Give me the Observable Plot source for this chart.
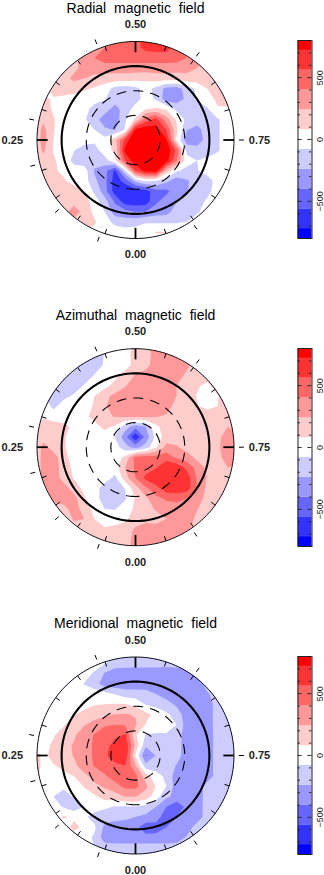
<!DOCTYPE html>
<html><head><meta charset="utf-8">
<script src="https://cdn.jsdelivr.net/npm/d3@7"></script>
<script src="https://cdn.jsdelivr.net/npm/@observablehq/plot@0.6"></script>
<style>html,body{margin:0;padding:0;background:#fff;overflow:hidden}#c{position:relative;width:324px;height:875px;overflow:hidden}svg{position:absolute;left:0;background:transparent!important}</style>
</head><body><div id="c"></div>
<script>
const titles=["Radial magnetic field","Azimuthal magnetic field","Meridional magnetic field"];
const phaseLabels=["0.50","0.25","0.75","0.00"];
const obsPhases=[0.057,0.133,0.211,0.281,0.439,0.6,0.75,0.904];
const cuts=[-720,-560,-400,-240,-80,80,240,400,560,720];
const bandColors=["#0000ff","#3333ff","#6666ff","#9999ff","#ccccff","#ffffff","#ffcccc","#ff9999","#ff6666","#ff3333","#ff0000"];
const barEdges=[-800,-720,-560,-400,-240,-80,80,240,400,560,720,800];
const barTicks=[-700,-600,-500,-400,-300,-200,-100,0,100,200,300,400,500,600,700];
const barLabels=[-500,0,500];
const radial=[
[0,0,0,0,0,0,0,160,320,480,480,640,640,560,480,320,160,0,0,0,0],
[0,0,0,0,160,240,320,400,480,480,520,600,620,620,480,320,240,160,100,0,0],
[0,0,0,100,180,300,400,480,480,480,480,480,480,480,480,400,300,200,100,0,0],
[0,0,0,140,200,300,300,320,320,320,320,320,320,320,300,300,240,160,120,60,0],
[0,0,100,180,280,240,200,170,160,160,140,120,160,160,160,180,170,160,160,100,60],
[0,0,160,160,140,100,60,0,-140,-170,-120,-20,-130,-290,-320,-170,-50,80,160,120,60],
[0,120,60,40,20,0,0,-70,-170,-170,-140,-20,-100,-330,-330,-200,-60,0,120,140,60],
[0,160,60,0,0,0,-165,-170,-300,-170,-10,80,110,70,-110,-170,-170,-100,60,60,20],
[20,200,90,20,0,-60,-170,-330,-340,-100,110,480,620,320,60,-120,-170,-170,-100,0,0],
[30,300,90,0,0,0,-80,-210,-250,-60,760,830,800,560,120,-230,-290,-170,-100,0,0],
[40,320,80,0,0,0,-40,-20,180,620,900,900,900,740,60,-330,-340,-170,-100,0,0],
[30,280,70,0,-70,-170,-160,20,110,780,900,900,900,850,520,-130,-160,-170,-100,0,0],
[0,150,100,20,-130,-170,-170,-150,40,560,850,900,900,800,420,-20,-80,-40,0,0,0],
[0,100,100,50,0,0,-260,-340,-600,-100,560,780,800,200,-60,-120,-90,-20,0,0,0],
[0,120,130,100,20,0,-200,-350,-640,-500,-200,-60,-80,-200,-330,-260,-170,-150,-20,0,0],
[0,60,170,170,170,60,-110,-330,-640,-700,-680,-640,-460,-440,-320,-250,-160,-130,0,0,0],
[0,0,80,200,180,170,0,-170,-420,-650,-660,-640,-430,-320,-240,-170,-160,-50,0,0,0],
[0,0,0,170,330,180,40,-80,-330,-340,-400,-400,-320,-300,-170,-160,-100,-10,0,0,0],
[0,0,0,0,170,170,100,-20,-120,-170,-140,-90,-100,-100,-90,-80,0,0,0,0,0],
[0,0,0,0,0,60,30,0,0,0,-10,0,90,90,0,0,0,0,0,0,0],
[0,0,0,0,0,0,0,0,0,0,0,0,0,0,0,0,0,0,0,0,0]];
const azimuthal=[
[0,0,0,0,0,0,-100,-60,0,0,120,200,300,300,300,200,100,100,100,100,100],
[0,0,0,-60,-120,-160,-170,-70,0,0,160,180,300,320,320,250,160,160,160,140,100],
[0,0,0,-120,-170,-170,-170,-60,0,0,150,200,300,330,330,280,160,160,160,160,100],
[0,0,-60,-160,-170,-170,-70,0,40,150,250,290,320,330,320,200,160,160,160,160,100],
[0,-60,-120,-170,-160,-70,0,30,130,230,320,330,320,320,240,170,100,40,160,160,100],
[0,-60,-150,-120,-60,0,80,200,280,330,330,330,320,320,240,170,70,0,70,160,100],
[0,20,-120,-10,0,0,100,220,320,330,330,330,330,320,170,160,90,40,80,160,100],
[0,60,0,0,0,40,130,200,250,270,270,270,250,220,170,160,160,160,160,180,100],
[0,160,160,120,50,0,30,120,60,-170,-330,-240,40,160,160,160,160,160,170,240,100],
[0,170,170,100,0,0,0,0,-90,-340,-700,-340,-30,160,160,180,160,170,200,320,300],
[0,300,180,100,0,0,0,0,0,-180,-300,-170,60,290,260,170,170,160,210,330,300],
[0,320,310,150,0,0,0,0,0,120,460,500,470,500,380,320,200,160,180,330,300],
[0,320,320,170,40,0,0,0,0,240,430,480,550,680,680,520,350,200,160,240,200],
[0,300,320,180,70,0,0,0,-120,170,400,600,700,710,710,660,380,230,160,160,120],
[0,200,320,320,160,40,0,-170,-200,-70,170,370,500,660,680,640,400,200,160,140,100],
[0,0,320,330,300,100,0,-170,-190,-100,100,200,360,420,440,400,330,170,160,120,100],
[0,0,100,180,320,170,30,-80,-90,0,110,170,260,330,340,320,250,160,130,100,50],
[0,0,0,100,260,240,80,0,0,40,180,190,170,240,320,320,200,160,100,50,0],
[0,0,0,0,160,160,140,100,130,170,260,320,320,320,320,280,170,120,0,0,0],
[0,0,0,0,0,100,150,180,200,170,300,330,330,320,280,200,0,0,0,0,0],
[0,0,0,0,0,0,0,100,160,170,300,320,320,300,100,0,0,0,0,0,0]];
const meridional=[
[0,0,0,0,0,0,0,0,-60,-100,-160,-160,-160,-160,-160,-160,-100,0,0,0,0],
[0,0,0,0,0,80,80,-70,-150,-160,-170,-170,-170,-180,-170,-160,-160,-120,0,0,0],
[0,0,0,0,80,40,-120,-250,-330,-340,-340,-340,-340,-340,-340,-300,-170,-160,-130,0,0],
[0,0,0,40,10,-90,-170,-320,-340,-340,-340,-340,-340,-340,-340,-340,-320,-170,-160,-130,0],
[0,0,20,40,0,0,0,-20,-90,-160,-165,-170,-240,-320,-335,-340,-340,-260,-160,-150,-100],
[0,0,30,10,0,20,70,80,90,85,30,-90,-130,-170,-270,-330,-340,-320,-170,-160,-100],
[0,0,0,0,70,130,170,200,245,250,230,130,30,-50,-150,-330,-340,-320,-170,-160,-100],
[0,0,0,60,170,230,300,390,400,390,260,70,0,0,-80,-320,-340,-320,-170,-160,-100],
[0,0,60,170,220,320,410,450,500,580,100,-90,-100,-100,-160,-320,-340,-330,-170,-160,-100],
[0,0,120,210,250,340,420,480,640,700,200,-200,-170,-160,-170,-320,-340,-330,-170,-160,-100],
[300,0,170,170,250,340,420,530,650,700,60,-420,-230,-140,-170,-320,-340,-330,-170,-160,-100],
[300,0,60,140,200,330,410,480,520,560,260,-180,-170,-160,-250,-320,-340,-330,-170,-160,-100],
[200,0,0,30,80,200,300,380,480,480,450,150,-10,-120,-320,-340,-340,-330,-170,-160,-80],
[0,0,-60,-40,-20,90,200,260,340,440,450,280,70,-80,-320,-340,-330,-170,-160,-140,-60],
[0,0,-80,-170,-60,0,50,150,170,250,250,170,0,-200,-300,-340,-330,-170,-160,-100,-40],
[0,0,0,-100,-170,-80,-10,-50,-90,-100,-90,-130,-240,-400,-500,-360,-320,-170,-160,-60,0],
[0,0,0,100,50,-50,-140,-170,-170,-200,-240,-280,-320,-500,-400,-340,-320,-170,-160,-60,0],
[0,0,0,0,130,40,-50,-280,-340,-340,-350,-500,-480,-400,-340,-320,-170,-150,-60,0,0],
[0,0,0,0,0,0,-110,-320,-340,-340,-340,-340,-340,-340,-330,-220,-160,-80,0,0,0],
[0,0,0,0,0,0,-80,-160,-170,-170,-170,-170,-170,-170,-160,-100,0,0,0,0,0],
[0,0,0,0,0,0,0,-80,-160,-170,-170,-170,-170,-160,-80,0,0,0,0,0,0]];
const fields=[radial,azimuthal,meridional];
const latCircles=[{r:30,dash:"9,8",w:1.1},{r:60,dash:"9,8",w:1.1},{r:90,dash:null,w:2.1}];
const panelTops=[0,307,615];
const panelHeights=[307,308,260];
const centersY=[139.5,139.7,140];
const barTops=[40,347.5,656];

const RIM=120, PX=98.5, CX=135, STEP=12.5, N=21;
const edge=STEP*N/2;
const pos=(phase,r)=>({x:-r*Math.sin(2*Math.PI*phase),y:r*Math.cos(2*Math.PI*phase)});
const ring=r=>d3.range(0,1,1/180).map(p=>pos(p,r));
const spoke=(p,a,b)=>({x1:pos(p,a).x,y1:pos(p,a).y,x2:pos(p,b).x,y2:pos(p,b).y});
const font="'Liberation Sans',sans-serif";
const host=document.getElementById("c");
fields.forEach((rows,i)=>{
  const id="disk"+i, cy=centersY[i];
  const clipRender=(idx,scales,vals,dims,ctx,next)=>{
    const g=next(idx,scales,vals,dims,ctx);
    const ns="http://www.w3.org/2000/svg";
    const cp=document.createElementNS(ns,"clipPath");cp.setAttribute("id",id);
    const c=document.createElementNS(ns,"circle");
    c.setAttribute("cx",scales.x(0));c.setAttribute("cy",scales.y(0));c.setAttribute("r",scales.x(RIM)-scales.x(0));
    cp.appendChild(c);g.insertBefore(cp,g.firstChild);
    g.setAttribute("clip-path",`url(#${id})`);
    return g;};
  const minor=d3.range(0,20).filter(j=>j%5!==0).map(j=>j*0.05);
  const svg=Plot.plot({
    width:324,height:panelHeights[i],margin:0,
    style:{fontFamily:font,background:"transparent"},
    x:{domain:[-RIM,RIM],range:[CX-PX,CX+PX],axis:null},
    y:{domain:[-RIM,RIM],range:[cy-PX,cy+PX],axis:null},
    color:{type:"threshold",domain:cuts,range:bandColors},
    marks:[
      Plot.contour(rows.flat(),{width:N,height:N,x1:-edge,x2:edge,y1:-edge,y2:edge,fill:Plot.identity,
        thresholds:[-2000,...cuts],stroke:"none",render:clipRender}),
      Plot.line(ring(RIM),{x:"x",y:"y",curve:"linear-closed",stroke:"#000",strokeWidth:0.9}),
      ...latCircles.map(c=>Plot.line(ring(c.r),{x:"x",y:"y",curve:"linear-closed",stroke:"#000",strokeWidth:c.w,strokeDasharray:c.dash})),
      Plot.link(minor.map(p=>spoke(p,RIM,RIM-6)),{x1:"x1",y1:"y1",x2:"x2",y2:"y2",stroke:"#000",strokeWidth:1}),
      Plot.link([0,0.25,0.5,0.75].map(p=>spoke(p,RIM,RIM-13)),{x1:"x1",y1:"y1",x2:"x2",y2:"y2",stroke:"#000",strokeWidth:1.8}),
      Plot.link(obsPhases.map(p=>spoke(p,RIM+6,RIM+12)),{x1:"x1",y1:"y1",x2:"x2",y2:"y2",stroke:"#000",strokeWidth:1}),
      Plot.text([phaseLabels[0]],{x:0,y:-140.5,text:d=>d,fontSize:11,fontWeight:"bold",fill:"#222"}),
      Plot.text([phaseLabels[3]],{x:0,y:140,text:d=>d,fontSize:11,fontWeight:"bold",fill:"#222"}),
      Plot.text([phaseLabels[1]],{x:-137,y:0,text:d=>d,fontSize:11,fontWeight:"bold",textAnchor:"end",fill:"#222"}),
      Plot.text([phaseLabels[2]],{x:138,y:0,text:d=>d,fontSize:11,fontWeight:"bold",textAnchor:"start",fill:"#222"}),
      Plot.text([titles[i]],{x:0,y:-160.5,text:d=>d,fontSize:14,fill:"#000"})
    ]
  });
  svg.style.top=panelTops[i]+"px";svg.style.wordSpacing="4px";
  host.appendChild(svg);
  const bar=Plot.plot({
    width:64,height:218,marginLeft:37.5,marginRight:12.5,marginTop:10,marginBottom:10,
    style:{fontFamily:font,background:"transparent"},
    x:{domain:[0,1],axis:null},
    y:{domain:[-800,800],axis:null},
    color:{type:"threshold",domain:cuts,range:bandColors},
    marks:[
      Plot.rect(d3.pairs(barEdges),{x1:0,x2:1,y1:d=>d[0],y2:d=>d[1],fill:d=>(d[0]+d[1])/2}),
      Plot.ruleY(barTicks,{x1:0,x2:d=>d%500===0?0.3:0.18,stroke:"#222",strokeWidth:0.9}),
      Plot.ruleY(barTicks,{x1:1,x2:d=>d%500===0?0.7:0.82,stroke:"#222",strokeWidth:0.9}),
      Plot.frame({stroke:"#222",strokeWidth:1}),
      Plot.text(barLabels,{x:1,y:d=>d,dx:8.5,rotate:-90,text:d=>d<0?"\u2212"+(-d):String(d),fontSize:9,fill:"#222"})
    ]
  });
  bar.style.top=(barTops[i]-10)+"px";bar.style.left="260px";
  host.appendChild(bar);
});
</script></body></html>
